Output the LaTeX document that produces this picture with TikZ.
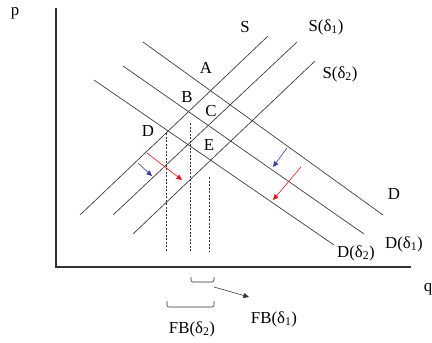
\documentclass[tikz,border=0pt]{standalone}
\usepackage{fontspec}
\setmainfont{Liberation Serif}
\usepackage{tikz}
\usetikzlibrary{arrows.meta}
\definecolor{ink}{HTML}{333333}
\definecolor{shiftblue}{HTML}{3A3AA8}
\definecolor{shiftred}{HTML}{F01010}

\begin{document}
\begin{tikzpicture}[x=1pt, y=-1pt,
    axis/.style={draw=ink, line width=1.6pt},
    curve/.style={draw=ink, line width=0.65pt},
    guide/.style={draw=ink, line width=0.4pt, dash pattern=on 2pt off 1.5pt},
    lbl/.style={font=\fontsize{16.8}{19}\selectfont, inner sep=0pt},
    move/.style={-{Triangle[length=5.5pt, width=5pt]}, line width=0.6pt},
    brack/.style={draw=ink, line width=0.6pt, rounded corners=2pt}]
  \useasboundingbox (0,0) rectangle (432,343);
  % axes
  \coordinate (ptop) at (56,8);
  \coordinate (O) at (56,267);
  \coordinate (qend) at (411,267);
  \draw[axis] (ptop) -- (O) -- (qend);
  \node[lbl] (p) at (15,13) {p};
  \node[lbl] (q) at (428,289) {q};
  % supply and demand curves
  \foreach \n/\xa/\ya/\xb/\yb in {s0/80/215/268/36, s1/113/215/297/42,
      s2/133/234/315/61, d0/143/42/383/215, d1/123/66/364/234,
      d2/94/80/334/245} {
    \coordinate (\n-a) at (\xa,\ya);
    \coordinate (\n-b) at (\xb,\yb);
    \draw[curve] (\n-a) -- (\n-b);
  }
  \node[lbl] (sl0) at (245,27) {S};
  \node[lbl] (sl1) at (326,27) {S(δ\textsubscript{1})};
  \node[lbl] (sl2) at (340,74) {S(δ\textsubscript{2})};
  \node[lbl] (dl0) at (394,194) {D};
  \node[lbl] (dl1) at (404,244) {D(δ\textsubscript{1})};
  \node[lbl] (dl2) at (356,253) {D(δ\textsubscript{2})};
  % equilibrium points
  \foreach \n/\x/\y in {A/206/68, B/187/97, C/211/111, D/148/131, E/209/145}
    \node[lbl] (pt\n) at (\x,\y) {\n};
  % quantity guides
  \foreach \n/\x/\y in {g1/166/133, g2/190/123, g3/209/177} {
    \coordinate (\n-a) at (\x,\y);
    \coordinate (\n-b) at (\x,252);
    \draw[guide] (\n-a) -- (\n-b);
  }
  % shifts of the curves
  \coordinate (bl-a) at (138,163);  \coordinate (bl-b) at (152,176);
  \coordinate (rl-a) at (147,153);  \coordinate (rl-b) at (182,180);
  \coordinate (br-a) at (287,148);  \coordinate (br-b) at (273,167);
  \coordinate (rr-a) at (301,167);  \coordinate (rr-b) at (273,200);
  \draw[move, shiftblue] (bl-a) -- (bl-b);
  \draw[move, shiftred] (rl-a) -- (rl-b);
  \draw[move, shiftblue] (br-a) -- (br-b);
  \draw[move, shiftred] (rr-a) -- (rr-b);
  % brackets under the axis
  \draw[brack] (191,277) -- (191,282) -- (214,282) -- (214,277);
  \draw[brack] (167,301) -- (167,307) -- (214,307) -- (214,301);
  \node[lbl] (fb2) at (192,329) {FB(δ\textsubscript{2})};
  \node[lbl] (fb1) at (274,319) {FB(δ\textsubscript{1})};
  \coordinate (fb-a) at (214,287);
  \coordinate (fb-b) at (249,297);
  \draw[move, ink] (fb-a) -- (fb-b);
\end{tikzpicture}
\end{document}
